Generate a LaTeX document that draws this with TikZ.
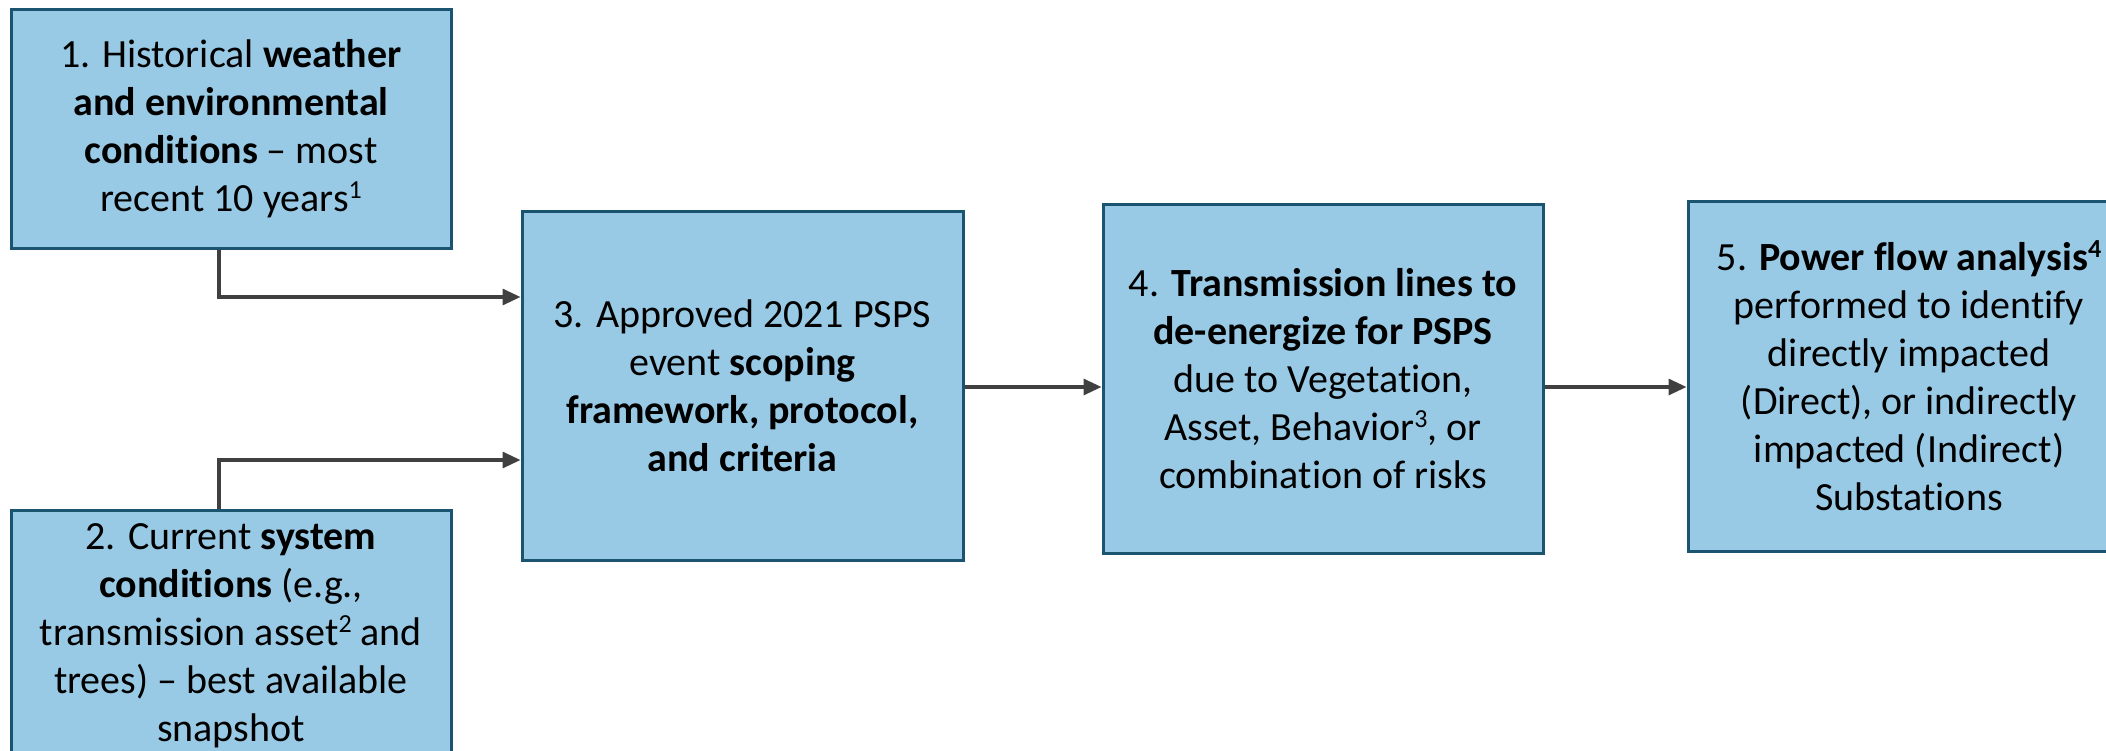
\documentclass[tikz,border=0pt]{standalone}
\usepackage{fontspec}
\setmainfont{Carlito}[Ligatures={NoCommon,NoRare,NoContextual}]
\usetikzlibrary{arrows.meta}
\definecolor{boxfill}{HTML}{99CAE5}
\definecolor{boxline}{HTML}{1A5470}
\definecolor{arrcol}{HTML}{404040}
\newcommand{\supnum}[1]{\raisebox{13pt}{\fontsize{26}{26}\selectfont #1}}
\tikzset{
  stepbox/.style={draw=boxline, fill=boxfill, line width=3pt, inner sep=0pt,
    align=center, text=black, font=\fontsize{40}{48}\selectfont},
  arr/.style={draw=arrcol, line width=3.2pt, -{Triangle[length=18pt,width=16pt]}}
}
\begin{document}
\begin{tikzpicture}[x=1pt,y=-1pt]
\useasboundingbox (0,0) rectangle (2106,750);
\clip (0,0) rectangle (2106,750);
\node[stepbox, minimum width=440pt, minimum height=239pt] (b1) at (231,128.5)
  {1. Historical \textbf{weather}\\ \textbf{and environmental}\\ \textbf{conditions} -- most\\ recent 10 years\supnum{1}};
\node[stepbox, minimum width=440pt, minimum height=252pt] (b2) at (231,636)
  {2. Current \textbf{system}\\ \textbf{conditions} (e.g.,\\ transmission asset\supnum{2} and\\ trees) -- best available\\ snapshot};
\node[stepbox, minimum width=441pt, minimum height=349pt] (b3) at (742.5,385.5)
  {3. Approved 2021 PSPS\\ event \textbf{scoping}\\ \textbf{framework, protocol,}\\ \textbf{and criteria}};
\node[stepbox, minimum width=440pt, minimum height=349pt] (b4) at (1323,378.5)
  {4. \textbf{Transmission lines to}\\ \textbf{de-energize for PSPS}\\ due to Vegetation,\\ Asset, Behavior\supnum{3}, or\\ combination of risks};
\node[stepbox, minimum width=442pt, minimum height=350pt] (b5) at (1909,376)
  {5. \textbf{Power flow analysis\supnum{\bfseries 4}}\\ performed to identify\\ directly impacted\\ (Direct), or indirectly\\ impacted (Indirect)\\ Substations};
\coordinate (j1) at (219,297);
\coordinate (j2) at (219,460);
\coordinate (j3) at (0,387);
\draw[arr] (b1.south -| j1) |- (b3.west |- j1);
\draw[arr] (b2.north -| j2) |- (b3.west |- j2);
\draw[arr] (b3.east |- j3) -- (b4.west |- j3);
\draw[arr] (b4.east |- j3) -- (b5.west |- j3);
\end{tikzpicture}
\end{document}
